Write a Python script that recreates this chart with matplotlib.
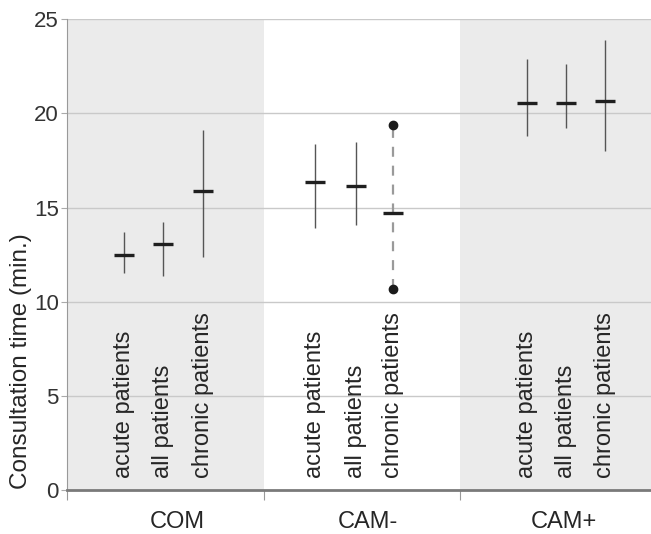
import matplotlib.pyplot as plt

plt.rcParams['font.family'] = ['Liberation Sans', 'DejaVu Sans']

groups = ['COM', 'CAM-', 'CAM+']
items = ['acute patients', 'all patients', 'chronic patients']

# mean, lower and upper value per group (rows) and patient type (columns)
means = [[12.5, 13.05, 15.9],
         [16.35, 16.15, 14.7],
         [20.55, 20.55, 20.65]]
lows = [[11.5, 11.35, 12.4],
        [13.9, 14.05, 10.7],
        [18.8, 19.25, 18.0]]
highs = [[13.7, 14.25, 19.1],
         [18.4, 18.5, 19.4],
         [22.9, 22.6, 23.9]]
yticks = [0, 5, 10, 15, 20, 25]

# layout: item offsets inside each group, group label offsets
offsets = [[0.29, 0.49, 0.69],
           [0.26, 0.47, 0.66],
           [0.34, 0.54, 0.74]]
label_pos = [0.56, 0.53, 0.53]

fig = plt.figure(figsize=(6.51, 5.34), dpi=100)
ax = fig.add_axes([0.103, 0.0824, 0.897, 0.8815])

ax.axvspan(0, 1, color='#ebebeb', zorder=0, lw=0)
ax.axvspan(2, 3, color='#ebebeb', zorder=0, lw=0)
for y in yticks[1:]:
    ax.axhline(y, color='#c9c9c9', lw=1.0, zorder=1)

for g in range(len(groups)):
    for i in range(len(items)):
        x = g + offsets[g][i]
        dashed = (g == 1 and i == 2)
        if dashed:
            ax.vlines(x, lows[g][i], highs[g][i], color='#9a9a9a', lw=1.6,
                      linestyles=(0, (4.5, 4)), zorder=2)
            ax.plot([x, x], [lows[g][i], highs[g][i]], 'o', color='#1a1a1a',
                    ms=6, zorder=3)
        else:
            ax.vlines(x, lows[g][i], highs[g][i], color='#555555', lw=1.0, zorder=2)
        ax.plot(x, means[g][i], marker='_', ms=14, mew=2.4, color='#1f1f1f', zorder=4)
        ax.text(x, 0.65, items[i], rotation=90, ha='center', va='bottom',
                fontsize=17, color='#262626')
    ax.text(g + label_pos[g], -1.7, groups[g], ha='center', va='center',
            fontsize=17, color='#262626')

ax.set_xlim(0, 2.972)
ax.set_ylim(0, 25)
ax.set_yticks(yticks)
ax.set_xticks([0, 1, 2])
ax.set_xticklabels([])
ax.tick_params(axis='y', length=4, color='#aaaaaa', labelsize=16, labelcolor='#333333', pad=2)
ax.tick_params(axis='x', length=7, color='#999999', direction='out')

for side in ['top', 'right']:
    ax.spines[side].set_visible(False)
ax.spines['left'].set_color('#999999')
ax.spines['bottom'].set_color('#7a7a7a')
ax.spines['bottom'].set_linewidth(2)

ax.set_ylabel('Consultation time (min.)', fontsize=17.5, color='#262626', va='center')
ax.yaxis.set_label_coords(-0.079, 0.274)

fig.savefig('out.png', dpi=100)
